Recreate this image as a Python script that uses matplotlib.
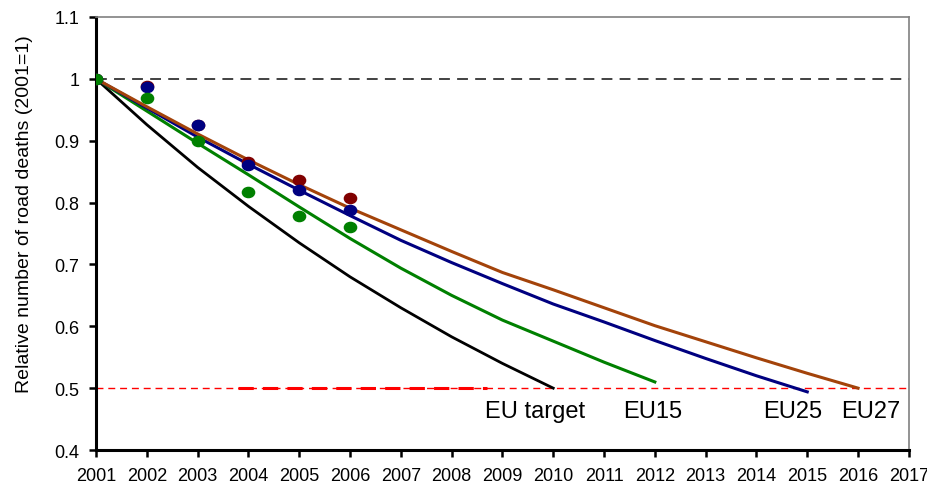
import matplotlib
matplotlib.use("Agg")
import matplotlib.pyplot as plt
from matplotlib.path import Path
from matplotlib.transforms import Affine2D
from matplotlib.ticker import FuncFormatter

plt.rcParams['font.family'] = ['Liberation Sans', 'DejaVu Sans']

# projected trends (relative to 2001)
target_years = list(range(2001, 2011))
eu_target = [1, 0.926, 0.857, 0.794, 0.735, 0.68, 0.63, 0.583, 0.54, 0.5]

eu15_years = list(range(2001, 2013))
eu15 = [1, 0.948, 0.896, 0.845, 0.793, 0.742, 0.694, 0.65, 0.61, 0.576, 0.542, 0.51]

eu25_years = list(range(2001, 2016))
eu25 = [1, 0.953, 0.906, 0.862, 0.82, 0.779, 0.739, 0.703, 0.669, 0.636,
        0.607, 0.577, 0.548, 0.52, 0.494]

eu27_years = list(range(2001, 2017))
eu27 = [1, 0.955, 0.911, 0.869, 0.829, 0.791, 0.756, 0.721, 0.687, 0.659,
        0.63, 0.601, 0.575, 0.549, 0.524, 0.5]

# observed values
obs_years = [2001, 2002, 2003, 2004, 2005, 2006]
obs_eu27 = [1, 0.988, 0.926, 0.866, 0.836, 0.807]
obs_eu25 = [1, 0.987, 0.926, 0.861, 0.820, 0.788]
obs_eu15 = [1, 0.969, 0.899, 0.817, 0.779, 0.760]

# reference levels
base_level = 1.0
target_level = 0.5

fig = plt.figure(figsize=(9.28, 4.89), dpi=100)
ax = fig.add_axes([0.1034, 0.0777, 0.876, 0.8855])

ax.axhline(base_level, color='#333333', lw=1.3, dashes=(6, 4), zorder=1)
ax.axhline(target_level, color='red', lw=1.0, dashes=(5, 3.5), zorder=1)
ax.plot([2003.8, 2008.7], [target_level, target_level], color='red', lw=2.2,
        dashes=(5, 3), zorder=1)

ax.plot(target_years, eu_target, color='black', lw=2.0, zorder=2)
ax.plot(eu15_years, eu15, color='#008000', lw=2.2, zorder=2)
ax.plot(eu25_years, eu25, color='#000080', lw=2.2, zorder=2)
ax.plot(eu27_years, eu27, color='#A3430A', lw=2.2, zorder=2)

# slightly wide dots like the original
ell = Path.unit_circle().transformed(Affine2D().scale(1.2, 1.0))
ax.plot(obs_years, obs_eu27, ls='none', marker=ell, ms=8.8, color='#800000', zorder=3)
ax.plot(obs_years, obs_eu25, ls='none', marker=ell, ms=8.8, color='#000080', zorder=3)
ax.plot(obs_years, obs_eu15, ls='none', marker=ell, ms=8.8, color='#008000', zorder=3)

ax.text(2009.64, 0.463, 'EU target', fontsize=17, ha='center', va='center')
ax.text(2011.96, 0.463, 'EU15', fontsize=17, ha='center', va='center')
ax.text(2014.72, 0.463, 'EU25', fontsize=17, ha='center', va='center')
ax.text(2016.25, 0.463, 'EU27', fontsize=17, ha='center', va='center')

ax.set_xlim(2001, 2017)
ax.set_ylim(0.4, 1.1)
ax.set_xticks(range(2001, 2018))
ax.set_yticks([0.4, 0.5, 0.6, 0.7, 0.8, 0.9, 1.0, 1.1])
ax.yaxis.set_major_formatter(FuncFormatter(lambda v, p: f'{v:g}'))

for s in ['left', 'bottom']:
    ax.spines[s].set_linewidth(2.2)
    ax.spines[s].set_color('black')
for s in ['top', 'right']:
    ax.spines[s].set_linewidth(1.2)
    ax.spines[s].set_color('#808080')

ax.tick_params(direction='out', length=5, width=1.8, labelsize=13, pad=7)
ax.set_ylabel('Relative number of road deaths (2001=1)', fontsize=14)
ax.yaxis.set_label_coords(-0.077, 0.546)

fig.savefig('out.png', dpi=100)
